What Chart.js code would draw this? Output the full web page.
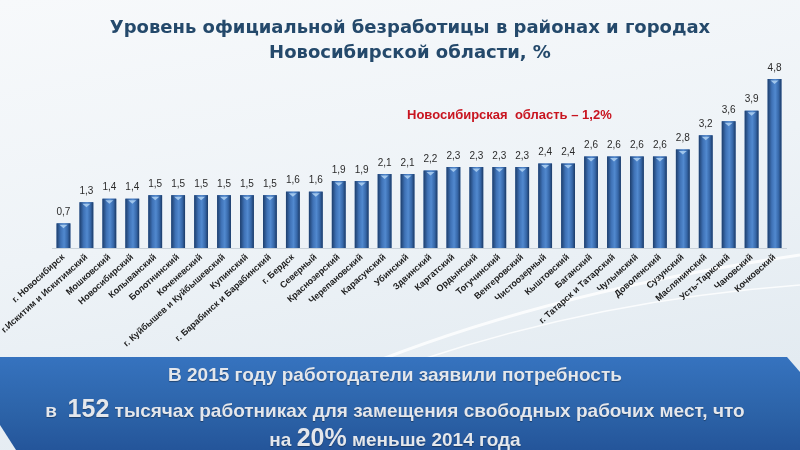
<!DOCTYPE html>
<html>
<head>
<meta charset="utf-8">
<script src="https://cdn.jsdelivr.net/npm/chart.js@4/dist/chart.umd.min.js"></script>
<style>
html, body { margin: 0; padding: 0; width: 800px; height: 450px; overflow: hidden; }
#wrap { position: relative; width: 800px; height: 450px;
  background: linear-gradient(170deg, #f7f9fb 0%, #eef3f7 45%, #dfe8ef 100%); }
#chart { position: absolute; left: 0; top: 0; }
.title { position: absolute; left: 0; top: 14px; width: 820px; text-align: center;
  font: bold 18px "DejaVu Sans", sans-serif; color: #24496b; line-height: 25px; }
.note { position: absolute; left: 407px; top: 107px; font: bold 13px "Liberation Sans", sans-serif;
  color: #c8141f; white-space: pre; }
.banner { position: absolute; left: 0; top: 357px; width: 800px; height: 93px;
  background: linear-gradient(180deg, #3673bf 0%, #2c63a8 60%, #24559a 100%);
  clip-path: polygon(0 0, 787px 0, 800px 15px, 800px 93px, 16px 93px, 0 68px);
  color: #e4e7ec; text-align: center; font: bold 19px "Liberation Sans", sans-serif;
  text-shadow: 0 1px 1px rgba(0,0,0,0.35); }
.banner div { position: absolute; left: 0; width: 790px; text-align: center; white-space: pre; }
.big { font-size: 25px; }
</style>
</head>
<body>
<div id="wrap">
  <canvas id="chart" width="800" height="450"></canvas>
  <div class="title">Уровень официальной безработицы в районах и городах<br>Новосибирской области, %</div>
  <div class="note">Новосибирская  область – 1,2%</div>
  <div class="banner">
    <div style="top:7px">В 2015 году работодатели заявили потребность</div>
    <div style="top:37px">в  <span class="big">152</span> тысячах работниках для замещения свободных рабочих мест, что</div>
    <div style="top:66px">на <span class="big">20%</span> меньше 2014 года</div>
  </div>
</div>
<script>
// районы и города, по возрастанию уровня безработицы
const districts = [
    'г. Новосибирск', 'г.Искитим и Искитимский', 'Мошковский', 'Новосибирский',
    'Колыванский', 'Болотнинский', 'Коченевский', 'г. Куйбышев и Куйбышевский',
    'Купинский', 'г. Барабинск и Барабинский', 'г. Бердск', 'Северный',
    'Краснозерский', 'Черепановский', 'Карасукский', 'Убинский',
    'Здвинский', 'Каргатский', 'Ордынский', 'Тогучинский',
    'Венгеровский', 'Чистоозерный', 'Кыштовский', 'Баганский',
    'г. Татарск и Татарский', 'Чулымский', 'Доволенский', 'Сузунский',
    'Маслянинский', 'Усть-Таркский', 'Чановский', 'Кочковский'
];
const rates = [
    0.7, 1.3, 1.4, 1.4, 1.5, 1.5, 1.5, 1.5,
    1.5, 1.5, 1.6, 1.6, 1.9, 1.9, 2.1, 2.1,
    2.2, 2.3, 2.3, 2.3, 2.3, 2.4, 2.4, 2.6,
    2.6, 2.6, 2.6, 2.8, 3.2, 3.6, 3.9, 4.8
];

// background swooshes behind the bars
const bgPlugin = {
    id: 'bg',
    beforeDraw(chart) {
        const c = chart.ctx;
        c.save();
        c.strokeStyle = 'rgba(255,255,255,0.8)';
        c.lineWidth = 3;
        c.beginPath();
        c.moveTo(380, 360);
        c.quadraticCurveTo(560, 290, 800, 255);
        c.stroke();
        c.lineWidth = 1.5;
        c.beginPath();
        c.moveTo(420, 360);
        c.quadraticCurveTo(600, 300, 800, 285);
        c.stroke();
        c.restore();
    }
};

// shading, top chevron and value labels
const barDecor = {
    id: 'barDecor',
    afterDatasetsDraw(chart) {
        const c = chart.ctx;
        const meta = chart.getDatasetMeta(0);
        c.save();
        meta.data.forEach((bar, i) => {
            const left = bar.x - bar.width / 2;
            const right = bar.x + bar.width / 2;
            const g = c.createLinearGradient(left, 0, right, 0);
            g.addColorStop(0, '#1d3e6c');
            g.addColorStop(0.3, '#3f72b6');
            g.addColorStop(0.55, '#5189cf');
            g.addColorStop(0.8, '#3667a8');
            g.addColorStop(1, '#1b3a66');
            c.fillStyle = g;
            c.fillRect(left, bar.y, bar.width, bar.base - bar.y);

            // light chevron at the top
            c.fillStyle = 'rgba(170,205,240,0.9)';
            c.beginPath();
            c.moveTo(bar.x - 4, bar.y + 1.5);
            c.lineTo(bar.x + 4, bar.y + 1.5);
            c.lineTo(bar.x, bar.y + 5);
            c.closePath();
            c.fill();

            c.fillStyle = '#2b2b2b';
            c.font = '10px "Liberation Sans", sans-serif';
            c.textAlign = 'center';
            c.textBaseline = 'bottom';
            c.fillText(rates[i].toFixed(1).replace('.', ','), bar.x, bar.y - 6);
        });
        c.restore();
    }
};

new Chart(document.getElementById('chart'), {
    type: 'bar',
    data: {
        labels: districts,
        datasets: [{
            data: rates,
            backgroundColor: '#3a6cb0',
            barPercentage: 0.6,
            categoryPercentage: 1.0
        }]
    },
    options: {
        responsive: false,
        animation: false,
        layout: { padding: { left: 52, right: 14, top: 72, bottom: 0 } },
        plugins: { legend: { display: false }, tooltip: { enabled: false } },
        scales: {
            x: {
                grid: { display: false, drawTicks: false },
                border: { display: true, color: '#c9d2da' },
                ticks: {
                    autoSkip: false,
                    maxRotation: 42,
                    minRotation: 42,
                    padding: 4,
                    color: '#1c1c1c',
                    font: { family: '"Liberation Sans", sans-serif', size: 9, weight: 'bold' }
                },
                afterFit(scale) { scale.height = 202; }
            },
            y: { display: false, min: 0, max: 5 }
        }
    },
    plugins: [bgPlugin, barDecor]
});
</script>
</body>
</html>
